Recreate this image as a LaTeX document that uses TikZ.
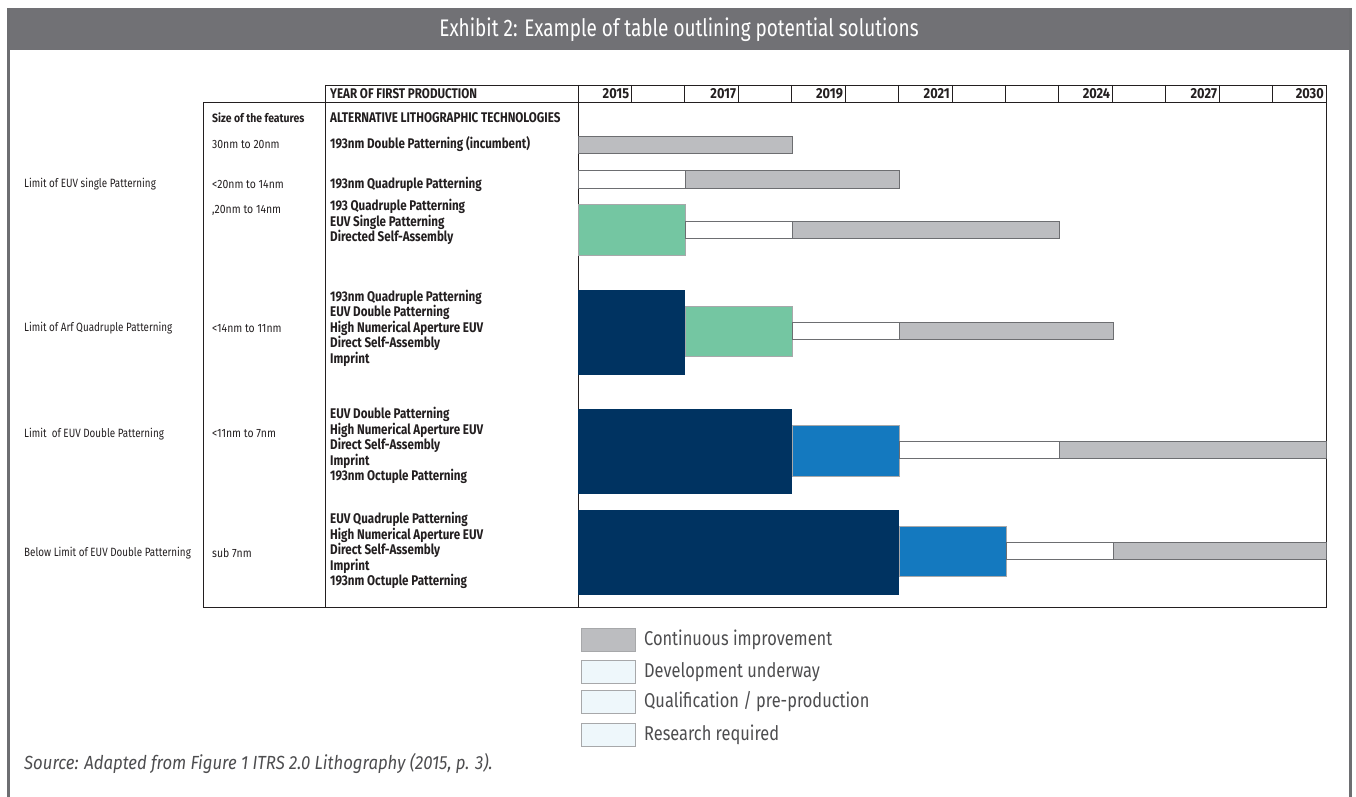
\documentclass[tikz,border=0pt]{standalone}
\usepackage{fontspec}
\setmainfont{Fira Sans}
\newfontfamily\condfont[FakeStretch=0.83]{Fira Sans}
\newfontfamily\labfont[FakeStretch=0.82]{Fira Sans}
\newfontfamily\featfont[FakeStretch=0.87]{Fira Sans}
\newfontfamily\yearfont[FakeStretch=0.88]{Fira Sans}
\newfontfamily\legfont[FakeStretch=0.82]{Fira Sans}
\newfontfamily\srcfont[FakeStretch=0.88]{Fira Sans}
\newfontfamily\titlefont[FakeStretch=0.79]{Fira Sans}
\usetikzlibrary{positioning}

\definecolor{bandgray}{HTML}{717175}
\definecolor{framegray}{HTML}{6D6E71}
\definecolor{contgray}{HTML}{BCBDC0}
\definecolor{qualgreen}{HTML}{74C6A2}
\definecolor{resnavy}{HTML}{003361}
\definecolor{devblue}{HTML}{1479BF}
\definecolor{legpale}{HTML}{EEF7FB}
\definecolor{inkgray}{HTML}{4D4D4F}
\definecolor{tableink}{HTML}{231F20}

\tikzset{
  tableline/.style={draw=tableink, line width=0.9pt},
  cont/.style={fill=contgray, draw=framegray, line width=0.9pt},
  dev/.style={fill=white, draw=framegray, line width=0.9pt},
  qual/.style={fill=qualgreen, draw=framegray!60, line width=0.9pt},
  res/.style={fill=resnavy},
  blu/.style={fill=devblue, draw=framegray!60, line width=0.9pt},
  rowlab/.style={anchor=west, inner sep=0pt, text=tableink, font=\labfont\fontsize{12}{13}\selectfont},
  featlab/.style={anchor=west, inner sep=0pt, text=tableink, font=\featfont\fontsize{12}{13}\selectfont},
  techlab/.style={anchor=west, inner sep=0pt, align=left, text=tableink, font=\condfont\bfseries\fontsize{14}{13}\selectfont},
  yearlab/.style={anchor=east, inner sep=0pt, text=tableink, font=\yearfont\bfseries\fontsize{14.5}{13}\selectfont},
  legbox/.style={draw=framegray!60, line width=0.9pt, minimum width=54pt, minimum height=23pt, inner sep=0pt},
  legtext/.style={anchor=west, inner sep=0pt, text=inkgray, font=\legfont\fontsize{20}{20}\selectfont}
}

\begin{document}
\begin{tikzpicture}[x=1pt, y=-1pt]
\useasboundingbox (0,0) rectangle (1356,797);

% frame and title band
\fill[bandgray] (8,8) rectangle (1351,50);
\draw[framegray, line width=2.5pt] (8.5,8) -- (8.5,797);
\draw[framegray, line width=2.5pt] (1350.5,8) -- (1350.5,797);
\node[text=white, font=\titlefont\fontsize{24}{26}\selectfont] (title) at (679,30) {Exhibit 2: Example of table outlining potential solutions};

% table
\draw[tableline] (203,102) rectangle (1326,607);
\draw[tableline] (325,85) -- (1326,85) -- (1326,102);
\draw[tableline] (325,85) -- (325,607);
\draw[tableline] (578,85) -- (578,607);
\foreach \i in {1,...,13}
  \draw[tableline] ({578+\i*53.43},85) -- ({578+\i*53.43},102);

\node[techlab] (year) at (330,94) {YEAR OF FIRST PRODUCTION};
\foreach \k/\yr in {0/2015,2/2017,4/2019,6/2021,9/2024,11/2027,13/2030}
  \node[yearlab] (y\yr) at ({578+(\k+1)*53.43-2},94) {\yr};

% bars
\draw[cont] (578,136.5) rectangle (792,153.5);

\draw[dev] (578,170.5) rectangle (685,188);
\draw[cont] (685,170.5) rectangle (899,188);

\draw[qual] (578,204.5) rectangle (685,255);
\draw[dev] (685,221) rectangle (792,238);
\draw[cont] (792,221) rectangle (1059,238);

\fill[res] (578,290) rectangle (685,375);
\draw[qual] (685,306) rectangle (792,356.5);
\draw[dev] (792,322.5) rectangle (899,339.5);
\draw[cont] (899,322.5) rectangle (1113,339.5);

\fill[res] (578,409) rectangle (792,494);
\draw[blu] (792,425) rectangle (899,476);
\draw[dev] (899,441.5) rectangle (1059,458.5);
\draw[cont] (1059,441.5) rectangle (1326,458.5);

\fill[res] (578,510) rectangle (899,594.5);
\draw[blu] (899,526.5) rectangle (1006,576.5);
\draw[dev] (1006,542.5) rectangle (1113,559.5);
\draw[cont] (1113,542.5) rectangle (1326,559.5);

% left labels
\node[rowlab] (lim1) at (24,184) {Limit of EUV single Patterning};
\node[rowlab] (lim2) at (24,328) {Limit of Arf Quadruple Patterning};
\node[rowlab] (lim3) at (24,434) {Limit\ \ of EUV Double Patterning};
\node[rowlab] (lim4) at (24,553) {Below Limit of EUV Double Patterning};

% feature sizes
\node[featlab, font=\featfont\bfseries\fontsize{12}{13}\selectfont] (size) at (212,118) {Size of the features};
\node[featlab] (s1) at (212,144) {30nm to 20nm};
\node[featlab] (s2) at (212,184) {<20nm to 14nm};
\node[featlab] (s3) at (212,210) {,20nm to 14nm};
\node[featlab] (s4) at (212,328) {<14nm to 11nm};
\node[featlab] (s5) at (212,434) {<11nm to 7nm};
\node[featlab] (s6) at (212,553) {sub 7nm};

% technologies
\node[techlab] (alt) at (330,118) {ALTERNATIVE LITHOGRAPHIC TECHNOLOGIES};
\node[techlab] (t1) at (330,144) {193nm Double Patterning (incumbent)};
\node[techlab] (t2) at (330,184) {193nm Quadruple Patterning};
\node[techlab] (t3) at (330,222) {193 Quadruple Patterning\\EUV Single Patterning\\Directed Self-Assembly};
\node[techlab] (t4) at (330,328) {193nm Quadruple Patterning\\EUV Double Patterning\\High Numerical Aperture EUV\\Direct Self-Assembly\\Imprint};
\node[techlab] (t5) at (330,445.5) {EUV Double Patterning\\High Numerical Aperture EUV\\Direct Self-Assembly\\Imprint\\193nm Octuple Patterning};
\node[techlab] (t6) at (330,550.5) {EUV Quadruple Patterning\\High Numerical Aperture EUV\\Direct Self-Assembly\\Imprint\\193nm Octuple Patterning};

% legend
\node[legbox, fill=contgray] (lb1) at (608.5,640) {};
\node[legbox, fill=legpale] (lb2) at (608.5,672) {};
\node[legbox, fill=legpale] (lb3) at (608.5,702) {};
\node[legbox, fill=legpale] (lb4) at (608.5,734.5) {};
\node[legtext, right=8pt of lb1] (lt1) {Continuous improvement};
\node[legtext, right=8pt of lb2] (lt2) {Development underway};
\node[legtext, right=8pt of lb3] (lt3) {Qualification / pre-production};
\node[legtext, right=8pt of lb4] (lt4) {Research required};

\node[anchor=west, inner sep=0pt, text=inkgray, font=\srcfont\itshape\fontsize{19}{20}\selectfont] (src) at (24,763) {Source: Adapted from Figure 1 ITRS 2.0 Lithography (2015, p. 3).};

\end{tikzpicture}
\end{document}
